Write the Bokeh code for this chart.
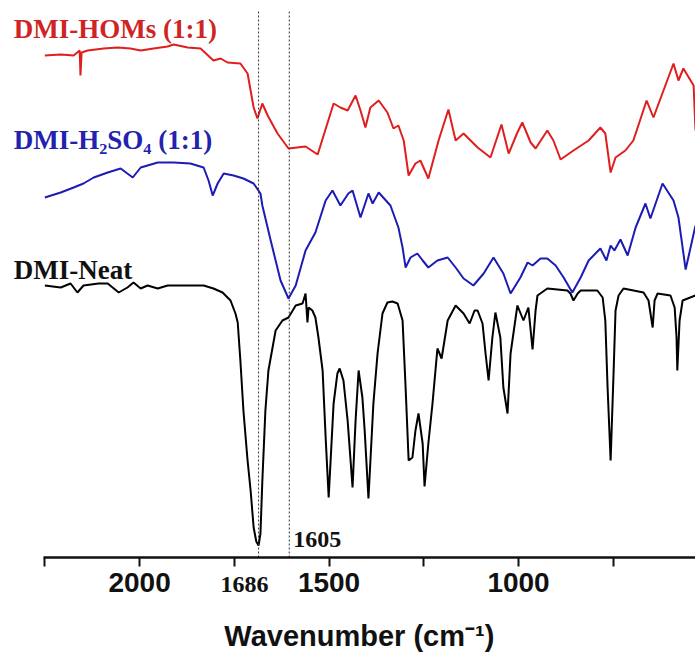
from bokeh.plotting import figure
from bokeh.models import Range1d, FixedTicker, Label
from bokeh.embed import file_html
from bokeh.resources import INLINE

# ---- data: wavenumber (cm-1) and offset transmittance (a.u.) ----
neat_wn = [2250, 2208, 2182, 2164, 2148, 2108, 2084, 2055, 2032, 2016, 1997, 1979, 1952, 1926,
           1892, 1873, 1831, 1805, 1781, 1760, 1747, 1741, 1734, 1726, 1715, 1707, 1699, 1692,
           1686, 1681, 1676, 1668, 1660, 1641, 1623, 1607, 1588, 1570, 1562, 1557, 1554, 1544,
           1536, 1528, 1517, 1509, 1501, 1488, 1478, 1472, 1462, 1451, 1438, 1430, 1422, 1412,
           1406, 1396, 1383, 1372, 1359, 1346, 1333, 1319, 1306, 1298, 1290, 1280, 1272, 1264,
           1253, 1248, 1238, 1227, 1214, 1203, 1187, 1166, 1145, 1129, 1116, 1108, 1095, 1087,
           1079, 1069, 1061, 1048, 1040, 1029, 1021, 1003, 987, 974, 963, 955, 950, 924, 871,
           863, 855, 844, 836, 792, 778, 771, 765, 757, 749, 744, 736, 723, 670, 657, 646, 641,
           633, 599, 588, 583, 581, 575, 567, 533]
neat_t = [272, 270, 274, 265, 272, 274, 274, 265, 270, 275, 269, 272, 269, 272,
          272, 272, 272, 269, 265, 257, 244, 235, 197, 147, 97, 67, 30, 16,
          12, 24, 77, 147, 187, 227, 237, 240, 252, 254, 264, 235, 250, 247,
          240, 220, 187, 120, 60, 154, 184, 189, 177, 137, 70, 137, 187, 160,
          127, 59, 154, 204, 244, 255, 256, 254, 237, 170, 97, 100, 127, 144,
          114, 71, 114, 154, 209, 199, 237, 252, 244, 234, 247, 247, 234, 204,
          177, 220, 245, 220, 170, 144, 204, 252, 237, 250, 208, 247, 262, 269, 267,
          264, 257, 264, 267, 267, 260, 237, 170, 97, 187, 247, 262, 269, 265, 257, 230, 257,
          264, 262, 250, 220, 187, 237, 257, 262]

h2so4_wn = [2250, 2208, 2174, 2148, 2121, 2084, 2050, 2018, 1997, 1952, 1910, 1866, 1831, 1818,
            1807, 1794, 1778, 1752, 1726, 1699, 1681, 1676, 1654, 1628, 1607, 1588, 1562, 1536,
            1509, 1491, 1470, 1449, 1438, 1417, 1396, 1385, 1369, 1338, 1317, 1306, 1298, 1285,
            1267, 1253, 1238, 1214, 1187, 1166, 1145, 1119, 1092, 1066, 1040, 1021, 995, 976,
            963, 942, 924, 902, 881, 858, 836, 815, 784, 768, 757, 747, 731, 712, 691, 665, 652,
            620, 591, 578, 559, 533]
h2so4_t = [360, 365, 370, 374, 380, 385, 389, 380, 390, 395, 395, 394, 390, 377,
           362, 374, 384, 382, 379, 374, 364, 352, 317, 277, 259, 272, 307, 325,
           357, 367, 352, 364, 367, 340, 364, 354, 365, 352, 330, 310, 290, 300,
           304, 297, 290, 297, 300, 290, 279, 272, 284, 300, 284, 264, 280, 295,
           292, 299, 299, 292, 280, 265, 280, 297, 309, 297, 312, 307, 318, 302, 330, 354, 339,
           374, 357, 340, 288, 332]

homs_wn = [2250, 2208, 2174, 2158, 2156, 2153, 2137, 2095, 2058, 2024, 1997, 1963, 1926, 1910,
           1873, 1839, 1805, 1786, 1768, 1734, 1715, 1699, 1689, 1676, 1662, 1636, 1607, 1562,
           1530, 1488, 1470, 1451, 1430, 1417, 1404, 1391, 1369, 1346, 1330, 1317, 1303, 1290,
           1272, 1259, 1238, 1211, 1185, 1166, 1145, 1108, 1074, 1045, 1026, 1003, 990, 968,
           955, 924, 908, 889, 855, 815, 784, 771, 757, 744, 718, 697, 662, 644, 591, 578, 565,
           538, 533]
homs_t = [502, 503, 502, 507, 482, 505, 507, 509, 510, 509, 507, 509, 511, 513,
          510, 509, 497, 499, 495, 494, 484, 450, 439, 454, 442, 424, 409, 411,
          403, 454, 450, 447, 462, 447, 430, 450, 457, 445, 429, 432, 417, 382,
          394, 397, 379, 417, 448, 417, 424, 410, 400, 433, 404, 425, 435, 415,
          409, 427, 417, 398, 407, 417, 430, 424, 385, 400, 407, 417, 457, 440, 494, 477, 489,
          472, 427]

series_names = ["DMI-HOMs (1:1)", "DMI-H\u2082SO\u2084 (1:1)", "DMI-Neat"]
series_colors = ["#e01e1e", "#1c1cb4", "#000000"]
label_colors = ["#cf2424", "#2222ae", "#111111"]
marked_wn = [1686, 1605]
tick_positions = [2250, 2000, 1750, 1500, 1250, 1000, 750]
tick_labels = {2250: "", 2000: "2000", 1750: "", 1500: "1500", 1250: "", 1000: "1000", 750: ""}

p = figure(width=695, height=654, output_backend="svg", toolbar_location=None,
           x_range=Range1d(2367, 533), y_range=Range1d(-97, 557),
           min_border_left=0, min_border_right=0, min_border_top=0, min_border_bottom=0)
p.outline_line_color = None
p.grid.visible = False
p.yaxis.visible = False
p.background_fill_color = "white"
p.border_fill_color = "white"

p.line(homs_wn, homs_t, line_color=series_colors[0], line_width=2)
p.line(h2so4_wn, h2so4_t, line_color=series_colors[1], line_width=2)
p.line(neat_wn, neat_t, line_color=series_colors[2], line_width=2)

# vertical marker lines from the axis to the top of the plot
p.segment(x0=marked_wn, y0=[0, 0], x1=marked_wn, y1=[547, 547],
          line_color="#333333", line_width=1, line_dash="2 2")

ax = p.xaxis[0]
ax.fixed_location = 0
ax.bounds = (533, 2253)
ax.ticker = FixedTicker(ticks=tick_positions)
ax.major_label_overrides = tick_labels
ax.minor_tick_line_color = None
ax.axis_line_width = 2.5
ax.axis_line_color = "#111111"
ax.major_tick_line_width = 2
ax.major_tick_line_color = "#111111"
ax.major_tick_in = 0
ax.major_tick_out = 9
ax.major_label_standoff = 6
ax.major_label_text_font = "Liberation Sans"
ax.major_label_text_font_style = "bold"
ax.major_label_text_font_size = "28px"
ax.major_label_text_color = "#111111"
ax.axis_label = "Wavenumber (cm\u207b\u00b9)\u2002\u2009"
ax.axis_label_text_font = "Liberation Sans"
ax.axis_label_text_font_style = "bold"
ax.axis_label_text_font_size = "29px"
ax.axis_label_text_color = "#111111"
ax.axis_label_standoff = 25

# series labels
label_y = [529, 418, 288]
for name, col, yy in zip(series_names, label_colors, label_y):
    p.add_layout(Label(x=2332, y=yy, text=name, text_color=col,
                       text_font="Liberation Serif", text_font_style="bold",
                       text_font_size="27px", text_align="left", text_baseline="alphabetic"))

p.add_layout(Label(x=1605, y=18, x_offset=4, text="1605", text_color="#111111",
                   text_font="Liberation Serif", text_font_style="bold",
                   text_font_size="24px", text_align="left", text_baseline="alphabetic"))
p.add_layout(Label(x=1686, y=-27, x_offset=10, text="1686", text_color="#111111",
                   text_font="Liberation Serif", text_font_style="bold",
                   text_font_size="24px", text_align="right", text_baseline="alphabetic"))

open("out.html", "w").write(file_html(p, INLINE))
